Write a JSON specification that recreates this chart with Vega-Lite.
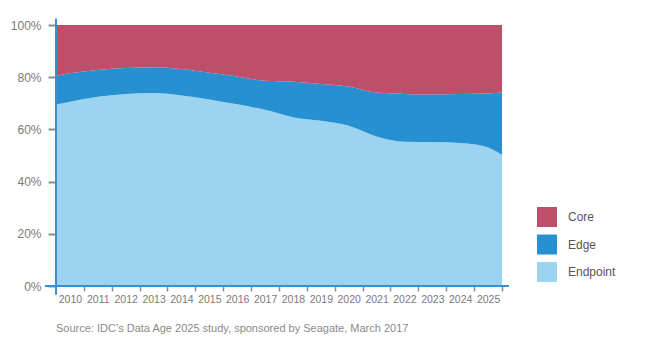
{
  "$schema": "https://vega.github.io/schema/vega-lite/v6.json",
  "width": 446,
  "height": 261,
  "autosize": "none",
  "padding": {"left": 56, "top": 25, "right": 160, "bottom": 58},
  "background": "white",
  "config": {
    "view": {"stroke": null},
    "font": "Liberation Sans",
    "axis": {"labelOverlap": false},
    "axisX": {"labelOverlap": false, "labelFlush": false}
  },
  "title": {
    "text": "Source: IDC’s Data Age 2025 study, sponsored by Seagate, March 2017",
    "orient": "bottom",
    "anchor": "start",
    "frame": "group",
    "fontSize": 11,
    "fontWeight": "normal",
    "color": "#8a8a8a",
    "font": "Liberation Sans",
    "offset": 18
  },
  "layer": [
    {
      "data": {
        "values": [
          {"year": 2009.5, "category": "Endpoint", "value": 69.5},
          {"year": 2009.5, "category": "Edge", "value": 11.0},
          {"year": 2009.5, "category": "Core", "value": 19.5},
          {"year": 2010, "category": "Endpoint", "value": 70.6},
          {"year": 2010, "category": "Edge", "value": 10.9},
          {"year": 2010, "category": "Core", "value": 18.5},
          {"year": 2011, "category": "Endpoint", "value": 72.5},
          {"year": 2011, "category": "Edge", "value": 10.3},
          {"year": 2011, "category": "Core", "value": 17.2},
          {"year": 2012, "category": "Endpoint", "value": 73.6},
          {"year": 2012, "category": "Edge", "value": 9.9},
          {"year": 2012, "category": "Core", "value": 16.5},
          {"year": 2013, "category": "Endpoint", "value": 73.9},
          {"year": 2013, "category": "Edge", "value": 9.9},
          {"year": 2013, "category": "Core", "value": 16.2},
          {"year": 2014, "category": "Endpoint", "value": 73.0},
          {"year": 2014, "category": "Edge", "value": 10.1},
          {"year": 2014, "category": "Core", "value": 16.9},
          {"year": 2015, "category": "Endpoint", "value": 71.5},
          {"year": 2015, "category": "Edge", "value": 10.2},
          {"year": 2015, "category": "Core", "value": 18.3},
          {"year": 2016, "category": "Endpoint", "value": 69.6},
          {"year": 2016, "category": "Edge", "value": 10.7},
          {"year": 2016, "category": "Core", "value": 19.7},
          {"year": 2017, "category": "Endpoint", "value": 67.5},
          {"year": 2017, "category": "Edge", "value": 11.1},
          {"year": 2017, "category": "Core", "value": 21.4},
          {"year": 2018, "category": "Endpoint", "value": 64.7},
          {"year": 2018, "category": "Edge", "value": 13.6},
          {"year": 2018, "category": "Core", "value": 21.7},
          {"year": 2019, "category": "Endpoint", "value": 63.3},
          {"year": 2019, "category": "Edge", "value": 14.1},
          {"year": 2019, "category": "Core", "value": 22.6},
          {"year": 2020, "category": "Endpoint", "value": 61.4},
          {"year": 2020, "category": "Edge", "value": 15.0},
          {"year": 2020, "category": "Core", "value": 23.6},
          {"year": 2021, "category": "Endpoint", "value": 57.3},
          {"year": 2021, "category": "Edge", "value": 16.8},
          {"year": 2021, "category": "Core", "value": 25.9},
          {"year": 2022, "category": "Endpoint", "value": 55.3},
          {"year": 2022, "category": "Edge", "value": 18.3},
          {"year": 2022, "category": "Core", "value": 26.4},
          {"year": 2023, "category": "Endpoint", "value": 55.2},
          {"year": 2023, "category": "Edge", "value": 18.2},
          {"year": 2023, "category": "Core", "value": 26.6},
          {"year": 2024, "category": "Endpoint", "value": 54.8},
          {"year": 2024, "category": "Edge", "value": 18.8},
          {"year": 2024, "category": "Core", "value": 26.4},
          {"year": 2025, "category": "Endpoint", "value": 53.1},
          {"year": 2025, "category": "Edge", "value": 20.7},
          {"year": 2025, "category": "Core", "value": 26.2},
          {"year": 2025.5, "category": "Endpoint", "value": 50.2},
          {"year": 2025.5, "category": "Edge", "value": 23.9},
          {"year": 2025.5, "category": "Core", "value": 25.9}
        ]
      },
      "mark": {"type": "area", "interpolate": "monotone"},
      "encoding": {
        "x": {
          "field": "year",
          "type": "quantitative",
          "scale": {"domain": [2009.5, 2025.5], "nice": false, "zero": false},
          "axis": {
            "title": null,
            "values": [2010, 2011, 2012, 2013, 2014, 2015, 2016, 2017, 2018, 2019, 2020, 2021, 2022, 2023, 2024, 2025],
            "format": "d",
            "domain": false,
            "grid": false,
            "tickSize": 5,
            "tickWidth": 1.5,
            "tickColor": "#8c8c8c",
            "tickOffset": 13.9,
            "labelOffset": -13.9,
            "labelPadding": 3,
            "labelFontSize": 10.5,
            "labelColor": "#7a7a7a",
            "labelFont": "Liberation Sans",
            "labelFlush": false,
            "labelOverlap": false,
            "labelBound": false
          }
        },
        "y": {
          "field": "value",
          "type": "quantitative",
          "stack": "zero",
          "scale": {"domain": [0, 100], "nice": false},
          "axis": {
            "title": null,
            "values": [0, 20, 40, 60, 80, 100],
            "labelExpr": "datum.value + '%'",
            "domain": false,
            "grid": false,
            "tickSize": 8,
            "tickWidth": 2,
            "tickColor": "#8c8c8c",
            "labelPadding": 7,
            "labelFontSize": 12,
            "labelColor": "#7a7a7a",
            "labelFont": "Liberation Sans"
          }
        },
        "color": {
          "field": "category",
          "type": "nominal",
          "scale": {
            "domain": ["Core", "Edge", "Endpoint"],
            "range": ["#BC4F69", "#2690D0", "#9BD3F0"]
          },
          "legend": {
            "title": null,
            "orient": "none",
            "legendX": 481,
            "legendY": 182,
            "symbolType": "square",
            "symbolSize": 400,
            "symbolStrokeWidth": 0,
            "symbolOpacity": 1,
            "rowPadding": 7.5,
            "labelOffset": 11,
            "labelFontSize": 12,
            "labelColor": "#555555",
            "labelFont": "Liberation Sans",
            "padding": 0
          }
        },
        "order": {"field": "category", "sort": "descending"}
      }
    },
    {
      "data": {"values": [{"x": 2009.5, "y": -3.4, "y2": 102.5}]},
      "mark": {"type": "rule", "color": "#3A8FD0", "strokeWidth": 2},
      "encoding": {
        "x": {
          "field": "x",
          "type": "quantitative",
          "axis": {
            "title": null,
            "values": [2010, 2011, 2012, 2013, 2014, 2015, 2016, 2017, 2018, 2019, 2020, 2021, 2022, 2023, 2024, 2025],
            "format": "d",
            "domain": false,
            "grid": false,
            "tickSize": 5,
            "tickWidth": 1.5,
            "tickColor": "#8c8c8c",
            "tickOffset": 13.9,
            "labelOffset": -13.9,
            "labelPadding": 3,
            "labelFontSize": 10.5,
            "labelColor": "#7a7a7a",
            "labelFont": "Liberation Sans",
            "labelFlush": false,
            "labelOverlap": false,
            "labelBound": false
          }
        },
        "y": {
          "field": "y",
          "type": "quantitative",
          "axis": {
            "title": null,
            "values": [0, 20, 40, 60, 80, 100],
            "labelExpr": "datum.value + '%'",
            "domain": false,
            "grid": false,
            "tickSize": 8,
            "tickWidth": 2,
            "tickColor": "#8c8c8c",
            "labelPadding": 7,
            "labelFontSize": 12,
            "labelColor": "#7a7a7a",
            "labelFont": "Liberation Sans"
          }
        },
        "y2": {"field": "y2"}
      }
    },
    {
      "data": {"values": [{"x": 2009.1, "x2": 2025.75, "y": 0}]},
      "mark": {"type": "rule", "color": "#3A8FD0", "strokeWidth": 2},
      "encoding": {
        "x": {
          "field": "x",
          "type": "quantitative",
          "axis": {
            "title": null,
            "values": [2010, 2011, 2012, 2013, 2014, 2015, 2016, 2017, 2018, 2019, 2020, 2021, 2022, 2023, 2024, 2025],
            "format": "d",
            "domain": false,
            "grid": false,
            "tickSize": 5,
            "tickWidth": 1.5,
            "tickColor": "#8c8c8c",
            "tickOffset": 13.9,
            "labelOffset": -13.9,
            "labelPadding": 3,
            "labelFontSize": 10.5,
            "labelColor": "#7a7a7a",
            "labelFont": "Liberation Sans",
            "labelFlush": false,
            "labelOverlap": false,
            "labelBound": false
          }
        },
        "x2": {"field": "x2"},
        "y": {
          "field": "y",
          "type": "quantitative",
          "axis": {
            "title": null,
            "values": [0, 20, 40, 60, 80, 100],
            "labelExpr": "datum.value + '%'",
            "domain": false,
            "grid": false,
            "tickSize": 8,
            "tickWidth": 2,
            "tickColor": "#8c8c8c",
            "labelPadding": 7,
            "labelFontSize": 12,
            "labelColor": "#7a7a7a",
            "labelFont": "Liberation Sans"
          }
        }
      }
    }
  ]
}
